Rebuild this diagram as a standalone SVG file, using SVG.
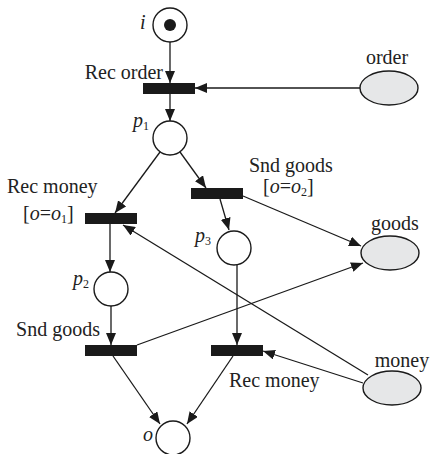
<svg xmlns="http://www.w3.org/2000/svg" width="432" height="454" viewBox="0 0 432 454" font-family="Liberation Serif, Times New Roman, DejaVu Serif, serif">
<style>
text{font-family:'Liberation Serif','Times New Roman',serif;font-size:20px;fill:#222}
.it{font-style:italic}
.sub{font-size:12px;font-style:normal}
.place{fill:#fff;stroke:#1a1a1a;stroke-width:1.4}
.ext{fill:#e6e7e8;stroke:#1a1a1a;stroke-width:1.4}
.tr{fill:#1a1a1a}
.arc{stroke:#1a1a1a;stroke-width:1.3;fill:none;marker-end:url(#ah)}
</style>
<defs>
<marker id="ah" viewBox="0 0 12 10" refX="12" refY="5" markerWidth="12" markerHeight="10" markerUnits="userSpaceOnUse" orient="auto">
<path d="M0,0 L12,5 L0,10 z" fill="#1a1a1a"/>
</marker>
</defs>
<rect width="432" height="454" fill="#fff"/>
<g id="connectors">
<line class="arc" x1="170" y1="42" x2="170" y2="83"/>
<line class="arc" x1="170" y1="94" x2="170" y2="121"/>
<line class="arc" x1="360" y1="88" x2="195" y2="88"/>
<line class="arc" x1="160" y1="152" x2="115" y2="213"/>
<line class="arc" x1="180" y1="152" x2="206" y2="188"/>
<line class="arc" x1="220" y1="199" x2="229" y2="230"/>
<line class="arc" x1="243" y1="196" x2="361" y2="246"/>
<line class="arc" x1="110" y1="224" x2="110" y2="272"/>
<line class="arc" x1="111" y1="306" x2="111" y2="345"/>
<line class="arc" x1="137" y1="345" x2="363" y2="263"/>
<line class="arc" x1="237" y1="265" x2="237" y2="345"/>
<line class="arc" x1="363" y1="383" x2="263" y2="351"/>
<line class="arc" x1="368" y1="375" x2="123" y2="225"/>
<line class="arc" x1="113" y1="356" x2="160" y2="424"/>
<line class="arc" x1="233" y1="356" x2="187" y2="424"/>
</g>
<g id="place-i">
<circle class="place" cx="170" cy="25" r="17"/>
<circle cx="170" cy="25" r="6" fill="#1a1a1a"/>
<text class="it" x="140" y="29">i</text>
</g>
<g id="t-rec-order">
<rect class="tr" x="143" y="83" width="52" height="11"/>
<text x="163" y="79" text-anchor="end">Rec order</text>
</g>
<g id="order">
<ellipse class="ext" cx="389" cy="88" rx="29" ry="17"/>
<text x="387" y="64" text-anchor="middle">order</text>
</g>
<g id="place-p1">
<circle class="place" cx="170" cy="138" r="17"/>
<text class="it" x="133" y="127">p<tspan class="sub" dy="3">1</tspan></text>
</g>
<g id="t-rec-money-1">
<rect class="tr" x="85" y="213" width="52" height="11"/>
<text x="7" y="193">Rec money</text>
<text x="23" y="220">[<tspan class="it">o</tspan>=<tspan class="it">o</tspan><tspan class="sub" dy="3">1</tspan><tspan dy="-3">]</tspan></text>
</g>
<g id="t-snd-goods-2">
<rect class="tr" x="191" y="188" width="52" height="11"/>
<text x="249" y="172">Snd goods</text>
<text x="263" y="193">[<tspan class="it">o</tspan>=<tspan class="it">o</tspan><tspan class="sub" dy="3">2</tspan><tspan dy="-3">]</tspan></text>
</g>
<g id="place-p3">
<circle class="place" cx="234" cy="248" r="17"/>
<text class="it" x="195" y="242">p<tspan class="sub" dy="3">3</tspan></text>
</g>
<g id="goods">
<ellipse class="ext" cx="390" cy="253" rx="29" ry="17"/>
<text x="395" y="230" text-anchor="middle">goods</text>
</g>
<g id="place-p2">
<circle class="place" cx="111" cy="289" r="17"/>
<text class="it" x="73" y="285">p<tspan class="sub" dy="3">2</tspan></text>
</g>
<g id="t-snd-goods-1">
<rect class="tr" x="85" y="345" width="52" height="11"/>
<text x="100" y="336" text-anchor="end">Snd goods</text>
</g>
<g id="t-rec-money-2">
<rect class="tr" x="211" y="345" width="52" height="11"/>
<text x="229" y="387">Rec money</text>
</g>
<g id="money">
<ellipse class="ext" cx="392" cy="388" rx="29" ry="17"/>
<text x="402" y="367" text-anchor="middle">money</text>
</g>
<g id="place-o">
<circle class="place" cx="173" cy="438" r="17"/>
<text class="it" x="143" y="441">o</text>
</g>
</svg>
